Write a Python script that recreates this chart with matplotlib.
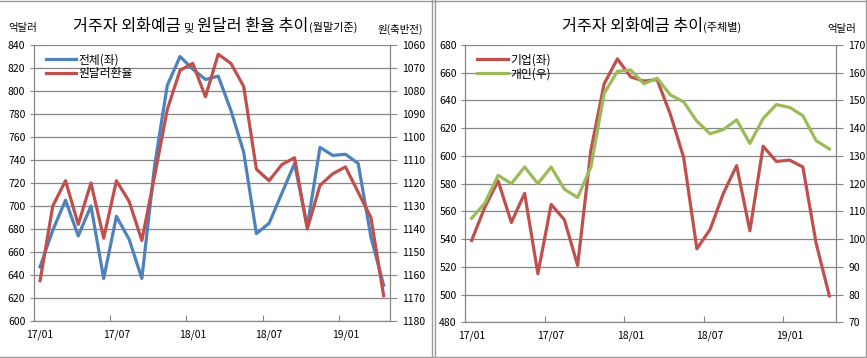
import matplotlib
matplotlib.use("Agg")
import matplotlib.pyplot as plt
from matplotlib.lines import Line2D
from matplotlib.transforms import IdentityTransform

plt.rcParams['font.family'] = ['Noto Sans CJK KR', 'DejaVu Sans']

# 17/01 ~ 19/04, monthly
tick_labels = ['17/01', '17/07', '18/01', '18/07', '19/01']

# left: total FX deposits (억달러) and KRW/USD rate (원, inverted axis)
total = [647, 679, 705, 674, 700, 637, 691, 671, 637, 735, 805, 830, 819, 810,
         813, 783, 747, 676, 685, 711, 737, 682, 751, 744, 745, 737, 673, 631]
fx_rate = [1162.5, 1130, 1119, 1138, 1120, 1144, 1119, 1128, 1145, 1117, 1088, 1071, 1068, 1082.5,
           1064, 1068, 1078, 1114, 1119, 1112, 1109, 1140, 1121, 1116, 1113, 1124, 1135, 1169]

# right: by holder
corp = [539, 563, 582, 552, 573, 515, 565, 554, 521, 604, 652, 670, 657, 654,
        655, 630, 599, 533, 547, 573, 593, 546, 607, 596, 597, 592, 537, 499]
indiv = [107.5, 113, 123, 120, 126, 120, 126, 118, 115, 126, 152.5, 160.5, 161, 156,
         158, 152, 149.5, 142.5, 138, 139.5, 143, 134.5, 143.5, 148.5, 147.5, 144.5, 135.5, 132.5]

BLUE = '#4F81BD'
RED = '#C0504D'
GREEN = '#9BBB59'
GRID = '#868686'
W, H = 867, 358

fig = plt.figure(figsize=(W / 100, H / 100), dpi=100)


def px_axes(x0, y0, x1, y1):
    # pixel box (top-left origin) -> axes
    return fig.add_axes([x0 / W, 1 - y1 / H, (x1 - x0) / W, (y1 - y0) / H])


def style(ax, ax2, ylim, yticks, ylim2, yticks2):
    n = len(total)
    xs = [i + 0.5 for i in range(n)]
    ax.set_xlim(0, n)
    ax.set_ylim(*ylim)
    ax.set_yticks(yticks)
    ax.yaxis.grid(True, color=GRID, lw=0.9)
    ax.set_axisbelow(True)
    ax.set_xticks([0, 6, 12, 18, 24])
    ax.set_xticklabels([])
    ax.set_xticks([0.5, 6.5, 12.5, 18.5, 24.5], minor=True)
    ax.set_xticklabels(tick_labels, minor=True, fontsize=7.5)
    ax.tick_params(axis='x', which='major', direction='in', length=4, color=GRID)
    ax.tick_params(axis='x', which='minor', length=0, pad=6)
    ax.tick_params(axis='y', length=3, color=GRID, labelsize=7.5, pad=3)
    ax2.set_ylim(*ylim2)
    ax2.set_yticks(yticks2)
    ax2.tick_params(axis='y', length=5, color=GRID, labelsize=7.5, pad=4)
    for a in (ax, ax2):
        a.spines['top'].set_visible(False)
        for s in ('left', 'right', 'bottom'):
            a.spines[s].set_color(GRID)
    return xs


def seq_text(x, y, pieces):
    # pieces drawn one after another on a common baseline (pixel coords, top origin)
    r = fig.canvas.get_renderer()
    cx = x
    for txt, size in pieces:
        t = fig.text(cx, H - y, txt, fontsize=size, va='baseline', ha='left',
                     transform=IdentityTransform())
        cx = t.get_window_extent(r).x1


# ---- left panel
ax = px_axes(33.7, 45, 390, 321)
ax2 = ax.twinx()
xs = style(ax, ax2, (600, 840), range(600, 841, 20), (1180, 1060), range(1060, 1181, 10))
ax.plot(xs, total, color=BLUE, lw=2.3)
ax2.plot(xs, fx_rate, color=RED, lw=2.3)
ax.legend([Line2D([], [], color=BLUE, lw=2.3), Line2D([], [], color=RED, lw=2.3)],
          ['전체(좌)', '원달러환율'], loc='upper left', bbox_to_anchor=(0.01, 1.0),
          frameon=False, fontsize=8.5, handlelength=2.6, handletextpad=0.2,
          labelspacing=0.1, borderaxespad=0.3)

# ---- right panel
bx = px_axes(465, 45, 836, 322.3)
bx2 = bx.twinx()
xs = style(bx, bx2, (480, 680), range(480, 681, 20), (70, 170), range(70, 171, 10))
bx.plot(xs, corp, color=RED, lw=2.3)
bx2.plot(xs, indiv, color=GREEN, lw=2.3)
bx.legend([Line2D([], [], color=RED, lw=2.3), Line2D([], [], color=GREEN, lw=2.3)],
          ['기업(좌)', '개인(우)'], loc='upper left', bbox_to_anchor=(0.01, 1.0),
          frameon=False, fontsize=8.5, handlelength=2.6, handletextpad=0.2,
          labelspacing=0.1, borderaxespad=0.3)

# titles and unit labels
seq_text(73, 31, [('거주자 외화예금 ', 11.6), ('및 ', 8), ('원달러 환율 추이', 11.6), ('(월말기준)', 8)])
seq_text(562, 31, [('거주자 외화예금 추이', 11.6), ('(주체별)', 8)])
fig.text(8 / W, 1 - 31 / H, '억달러', fontsize=7.5, ha='left', va='baseline')
fig.text(377 / W, 1 - 33 / H, '원(축반전)', fontsize=7.5, ha='left', va='baseline')
fig.text(827 / W, 1 - 32 / H, '억달러', fontsize=7.5, ha='left', va='baseline')

# panel frames
for (x0, y0, x1, y1) in [(0, 1, W, 1), (0, 356.5, W, 356.5), (432, 0, 432, 358),
                         (434.5, 0, 434.5, 358), (865.5, 0, 865.5, 358)]:
    fig.add_artist(Line2D([x0 / W, x1 / W], [1 - y0 / H, 1 - y1 / H],
                          transform=fig.transFigure, color='#9a9a9a', lw=1))

fig.savefig('out.png', dpi=100)
